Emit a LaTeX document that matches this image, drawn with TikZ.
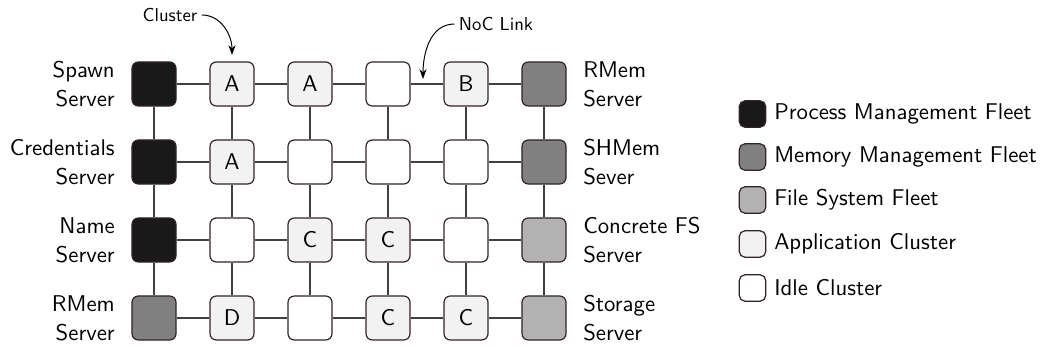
\documentclass[tikz,border=0pt]{standalone}
\usepackage{fontspec}
\newfontfamily\lmsten{lmsans10-regular.otf}
\usetikzlibrary{calc,arrows.meta}
\definecolor{bordc}{RGB}{50,36,36}
\begin{document}
\begin{tikzpicture}[x=0.025cm,y=-0.025cm,
  font=\lmsten\fontsize{16.2}{20.6}\selectfont,
  tile/.style={draw=bordc,line width=0.85pt,rounded corners=4.5pt,minimum size=1.1cm,inner sep=0pt},
  pm/.style={tile,fill=black!90},
  mm/.style={tile,fill=black!50},
  fs/.style={tile,fill=black!30},
  app/.style={tile,fill=black!5},
  idle/.style={tile,fill=white},
  ltile/.style={draw=bordc,line width=0.85pt,rounded corners=4pt,minimum size=0.66cm,inner sep=0pt},
  link/.style={draw=black!75,line width=0.95pt},
  lbl/.style={inner sep=0pt},
  note/.style={inner sep=0pt,font=\lmsten\fontsize{13.3}{15}\selectfont},
  pointer/.style={-{Stealth[length=7pt,width=5pt]},line width=0.7pt}
]
\useasboundingbox (0,0) rectangle (1041,347);
% row 1
\node[pm]   (n11) at (154,84) {};
\node[app]  (n12) at (232,84) {A};
\node[app]  (n13) at (310,84) {A};
\node[idle] (n14) at (388,84) {};
\node[app]  (n15) at (466,84) {B};
\node[mm]   (n16) at (544,84) {};
% row 2
\node[pm]   (n21) at (154,162) {};
\node[app]  (n22) at (232,162) {A};
\node[idle] (n23) at (310,162) {};
\node[idle] (n24) at (388,162) {};
\node[idle] (n25) at (466,162) {};
\node[mm]   (n26) at (544,162) {};
% row 3
\node[pm]   (n31) at (154,240) {};
\node[idle] (n32) at (232,240) {};
\node[app]  (n33) at (310,240) {C};
\node[app]  (n34) at (388,240) {C};
\node[idle] (n35) at (466,240) {};
\node[fs]   (n36) at (544,240) {};
% row 4
\node[mm]   (n41) at (154,318) {};
\node[app]  (n42) at (232,318) {D};
\node[idle] (n43) at (310,318) {};
\node[app]  (n44) at (388,318) {C};
\node[app]  (n45) at (466,318) {C};
\node[fs]   (n46) at (544,318) {};
% links
\foreach \r in {1,2,3,4}{
  \foreach \c [evaluate=\c as \d using int(\c+1)] in {1,2,3,4,5}{
    \draw[link] (n\r\c) -- (n\r\d);
  }
}
\foreach \c in {1,2,3,4,5,6}{
  \foreach \r [evaluate=\r as \s using int(\r+1)] in {1,2,3}{
    \draw[link] (n\r\c) -- (n\s\c);
  }
}
% left labels
\node[lbl,anchor=east,align=right] (l1) at (115,84) {Spawn\\Server};
\node[lbl,anchor=east,align=right] (l2) at (115,162) {Credentials\\Server};
\node[lbl,anchor=east,align=right] (l3) at (115,240) {Name\\Server};
\node[lbl,anchor=east,align=right] (l4) at (115,318) {RMem\\Server};
% right labels
\node[lbl,anchor=west,align=left] (r1) at (583,84) {RMem\\Server};
\node[lbl,anchor=west,align=left] (r2) at (583,162) {SHMem\\Sever};
\node[lbl,anchor=west,align=left] (r3) at (583,240) {Concrete FS\\Server};
\node[lbl,anchor=west,align=left] (r4) at (583,318) {Storage\\Server};
% annotations
\node[note] (cl) at (170,15) {Cluster};
\coordinate (clend) at (232,55);
\draw[pointer] ([xshift=3pt]cl.east) to[out=0,in=90] (clend);
\node[note] (noc) at (496,24) {NoC Link};
\coordinate (nocend) at (423,79);
\draw[pointer] ([xshift=-3pt]noc.west) to[out=180,in=90] (nocend);
% legend
\node[ltile,fill=black!90] (g1) at (752.5,114) {};
\node[ltile,fill=black!50] (g2) at (752.5,157) {};
\node[ltile,fill=black!30] (g3) at (752.5,200) {};
\node[ltile,fill=black!5]  (g4) at (752.5,244) {};
\node[ltile,fill=white]    (g5) at (752.5,288) {};
\node[lbl,anchor=west] (t1) at (774,114) {Process Management Fleet};
\node[lbl,anchor=west] (t2) at (774,157) {Memory Management Fleet};
\node[lbl,anchor=west] (t3) at (774,200) {File System Fleet};
\node[lbl,anchor=west] (t4) at (774,244) {Application Cluster};
\node[lbl,anchor=west] (t5) at (774,288) {Idle Cluster};
\end{tikzpicture}
\end{document}
